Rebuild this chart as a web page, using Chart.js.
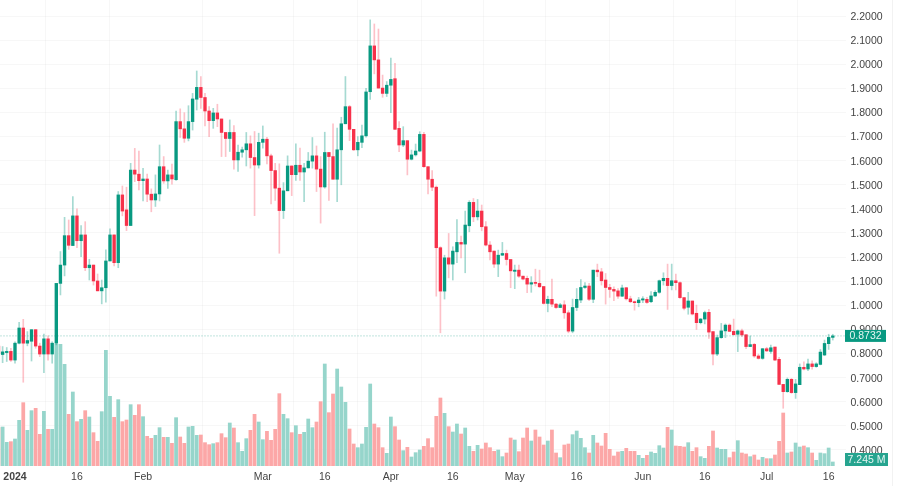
<!DOCTYPE html>
<html>
<head>
<meta charset="utf-8">
<title>Candles</title>
<script src="https://cdn.jsdelivr.net/npm/chart.js@4"></script>
<style>
  html, body { margin: 0; padding: 0; background: #fff; }
  canvas { display: block; }
</style>
</head>
<body>
<canvas id="graficoVelas" width="900" height="486"></canvas>
<script>
// daily candles, 28 Dec 2023 -> 17 Jul 2024
const opens = [
  .831, .796, .804, .809, .773, .843, .906, .843, .851, .899,
  .831, .798, .861, .798, .843, 1.091, 1.167, 1.289, 1.248, 1.371,
  1.268, 1.292, 1.156, 1.167, 1.101, 1.060, 1.073, 1.184, 1.292, 1.177,
  1.458, 1.396, 1.331, 1.561, 1.544, 1.517, 1.524, 1.461, 1.437, 1.462,
  1.575, 1.516, 1.541, 1.521, 1.762, 1.732, 1.693, 1.762, 1.855, 1.904,
  1.862, 1.806, 1.766, 1.798, 1.773, 1.717, 1.692, 1.717, 1.603, 1.635,
  1.645, 1.670, 1.613, 1.582, 1.676, 1.689, 1.620, 1.559, 1.486, 1.393,
  1.475, 1.578, 1.542, 1.581, 1.553, 1.570, 1.598, 1.620, 1.565, 1.491,
  1.634, 1.617, 1.523, 1.645, 1.753, 1.824, 1.730, 1.645, 1.676, 1.703,
  1.886, 2.076, 2.018, 1.901, 1.879, 1.913, 1.940, 1.734, 1.665, 1.683,
  1.606, 1.624, 1.640, 1.709, 1.575, 1.523, 1.490, 1.239, 1.059, 1.197,
  1.171, 1.222, 1.261, 1.254, 1.330, 1.427, 1.367, 1.391, 1.326, 1.250,
  1.225, 1.171, 1.208, 1.215, 1.190, 1.141, 1.146, 1.121, 1.112, 1.088,
  1.095, 1.091, 1.078, 1.008, 1.025, 1.005, .991, 1.002, .969, .893,
  .991, 1.022, 1.074, 1.080, 1.025, 1.146, 1.139, 1.105, 1.074, 1.066,
  1.060, 1.038, 1.073, 1.027, 1.015, 1.011, 1.022, 1.025, 1.015, 1.039,
  1.054, 1.102, 1.112, 1.082, 1.102, 1.094, 1.032, .992, 1.018, .967,
  .928, .943, .971, .891, .798, .866, .894, .918, .892, .880,
  .894, .878, .829, .838, .790, .780, .820, .809, .827, .776,
  .672, .642, .693, .638, .671, .743, .736, .757, .746, .755,
  .794, .841, .867
]
const closes = [
  .801, .807, .809, .773, .843, .906, .843, .854, .899, .831,
  .798, .861, .798, .843, 1.091, 1.167, 1.289, 1.249, 1.371, 1.268,
  1.292, 1.156, 1.167, 1.101, 1.060, 1.073, 1.184, 1.292, 1.177, 1.458,
  1.391, 1.331, 1.561, 1.544, 1.517, 1.524, 1.461, 1.437, 1.462, 1.575,
  1.516, 1.541, 1.524, 1.762, 1.732, 1.693, 1.762, 1.856, 1.904, 1.862,
  1.806, 1.766, 1.798, 1.773, 1.717, 1.692, 1.717, 1.603, 1.635, 1.645,
  1.670, 1.613, 1.582, 1.676, 1.689, 1.620, 1.559, 1.486, 1.393, 1.475,
  1.578, 1.542, 1.581, 1.553, 1.570, 1.598, 1.620, 1.565, 1.491, 1.634,
  1.617, 1.523, 1.645, 1.753, 1.824, 1.730, 1.645, 1.676, 1.703, 1.885,
  2.076, 2.018, 1.901, 1.879, 1.913, 1.937, 1.730, 1.665, 1.683, 1.606,
  1.624, 1.640, 1.709, 1.575, 1.523, 1.490, 1.239, 1.059, 1.197, 1.171,
  1.225, 1.261, 1.254, 1.333, 1.427, 1.367, 1.391, 1.326, 1.250, 1.222,
  1.171, 1.208, 1.215, 1.190, 1.143, 1.146, 1.121, 1.109, 1.088, 1.094,
  1.091, 1.077, 1.008, 1.025, 1.005, .991, 1.002, .969, .893, .991,
  1.025, 1.074, 1.080, 1.025, 1.146, 1.139, 1.102, 1.074, 1.066, 1.059,
  1.038, 1.072, 1.027, 1.015, 1.011, 1.022, 1.027, 1.012, 1.039, 1.054,
  1.102, 1.112, 1.082, 1.102, 1.094, 1.032, .988, 1.018, .964, .928,
  .943, .970, .889, .798, .866, .894, .918, .892, .878, .894,
  .877, .829, .837, .790, .780, .820, .811, .824, .773, .672,
  .642, .693, .638, .674, .743, .736, .757, .746, .757, .806,
  .842, .867, .8732
]
const highs = [
  .843, .829, .825, .822, .849, .930, .942, .891, .899, .899,
  .843, .881, .873, .849, 1.091, 1.223, 1.365, 1.354, 1.451, 1.400,
  1.331, 1.347, 1.191, 1.167, 1.130, 1.105, 1.230, 1.317, 1.292, 1.472,
  1.495, 1.490, 1.589, 1.651, 1.640, 1.568, 1.544, 1.483, 1.541, 1.665,
  1.617, 1.561, 1.586, 1.806, 1.815, 1.799, 1.828, 1.879, 1.972, 1.949,
  1.879, 1.824, 1.817, 1.834, 1.773, 1.717, 1.769, 1.746, 1.665, 1.656,
  1.717, 1.703, 1.721, 1.714, 1.744, 1.697, 1.627, 1.589, 1.587, 1.509,
  1.620, 1.578, 1.670, 1.652, 1.589, 1.634, 1.696, 1.661, 1.617, 1.718,
  1.634, 1.753, 1.735, 1.780, 1.949, 1.829, 1.730, 1.700, 1.748, 1.900,
  2.184, 2.167, 2.146, 1.955, 1.928, 2.025, 2.004, 1.762, 1.741, 1.683,
  1.644, 1.669, 1.720, 1.718, 1.575, 1.559, 1.495, 1.243, 1.208, 1.298,
  1.243, 1.356, 1.287, 1.391, 1.434, 1.443, 1.439, 1.416, 1.347, 1.264,
  1.225, 1.229, 1.261, 1.229, 1.190, 1.167, 1.167, 1.121, 1.121, 1.119,
  1.150, 1.146, 1.078, 1.038, 1.109, 1.008, 1.008, 1.019, .978, 1.026,
  1.070, 1.107, 1.094, 1.091, 1.146, 1.171, 1.153, 1.132, 1.087, 1.077,
  1.069, 1.084, 1.074, 1.038, 1.018, 1.033, 1.036, 1.033, 1.057, 1.061,
  1.105, 1.135, 1.171, 1.171, 1.130, 1.097, 1.032, 1.054, 1.018, 1.001,
  .946, .976, .983, .891, .877, .925, .923, .923, .943, .898,
  .902, .878, .873, .842, .798, .821, .826, .835, .827, .784,
  .672, .699, .697, .693, .757, .766, .777, .770, .762, .817,
  .856, .880, .880
]
const lows = [
  .767, .762, .767, .767, .760, .840, .681, .832, .769, .822,
  .787, .721, .773, .760, .836, 1.043, 1.122, 1.232, 1.248, 1.239,
  1.202, 1.144, 1.105, 1.084, 1.060, 1.006, 1.013, 1.184, 1.163, 1.156,
  1.371, 1.310, 1.331, 1.513, 1.479, 1.433, 1.430, 1.388, 1.410, 1.433,
  1.506, 1.485, 1.503, 1.518, 1.696, 1.676, 1.682, 1.727, 1.810, 1.817,
  1.744, 1.700, 1.734, 1.741, 1.617, 1.617, 1.638, 1.565, 1.555, 1.614,
  1.578, 1.569, 1.372, 1.569, 1.652, 1.587, 1.421, 1.435, 1.216, 1.360,
  1.475, 1.455, 1.518, 1.518, 1.430, 1.570, 1.569, 1.472, 1.341, 1.486,
  1.435, 1.523, 1.430, 1.500, 1.753, 1.683, 1.642, 1.620, 1.654, 1.697,
  1.854, 1.960, 1.901, 1.863, 1.866, 1.799, 1.730, 1.637, 1.658, 1.541,
  1.603, 1.619, 1.637, 1.572, 1.462, 1.476, 1.038, .886, 1.026, 1.114,
  1.105, 1.177, 1.197, 1.135, 1.305, 1.347, 1.354, 1.309, 1.246, 1.188,
  1.157, 1.119, 1.206, 1.167, 1.073, 1.069, 1.116, 1.105, 1.052, 1.054,
  1.080, 1.074, 1.005, .973, .994, .987, .991, .946, .886, .886,
  .978, 1.011, 1.070, 1.019, 1.011, 1.119, 1.084, 1.005, 1.033, 1.019,
  1.029, 1.036, 1.022, 1.011, .980, .994, 1.011, 1.008, 1.011, 1.036,
  1.050, 1.084, .983, 1.064, 1.064, 1.029, .981, .963, .960, .900,
  .923, .923, .863, .753, .791, .863, .866, .892, .877, .808,
  .870, .820, .829, .784, .777, .776, .808, .801, .770, .672,
  .573, .639, .635, .614, .671, .732, .729, .735, .743, .753,
  .791, .817, .856
]
// volume in millions
const volumes = [
  69, 70.2, 42.6, 43.8, 48.6, 82.2, 114, 64.2, 99.6, 103.8,
  57, 98.4, 66, 66, 219, 219, 183, 93, 133.2, 79.8,
  84, 99.6, 88.2, 60, 44.4, 97.8, 208.2, 125.4, 87.6, 119.4,
  79.8, 82.8, 110.4, 91.2, 110.4, 88.8, 53.4, 49.8, 55.2, 69,
  51.6, 51.6, 40.8, 87, 52.2, 40.8, 70.2, 71.4, 55.2, 55.8,
  42, 38.4, 40.2, 42, 58.2, 51, 77.4, 68.4, 42, 26.4,
  49.2, 64.2, 93, 79.2, 47.4, 62.4, 46.2, 66, 130.2, 93,
  85.2, 60, 72.6, 57, 60.6, 84.6, 69, 79.2, 115.8, 183.6,
  96, 129.6, 174.6, 142.2, 114.6, 66.6, 39.6, 33, 39.6, 69.6,
  147.6, 75.6, 69, 33, 22.8, 88.2, 70.8, 46.8, 27.6, 33.6,
  16.2, 24, 28.8, 35.4, 49.2, 33, 89.4, 122.4, 94.8, 70.8,
  61.2, 75.6, 57.6, 68.4, 35.4, 26.4, 37.2, 30.6, 41.4, 33,
  26.4, 28.8, 16.8, 23.4, 50.4, 46.8, 25.8, 50.4, 68.4, 45,
  64.8, 52.2, 37.8, 45, 64.8, 23.4, 15, 37.8, 39.6, 56.4,
  63, 49.8, 33, 23.4, 55.2, 41.4, 36, 58.8, 30, 18,
  25.2, 26.4, 31.8, 26.4, 26.4, 19.2, 13.8, 19.2, 25.2, 22.8,
  36.6, 32.4, 69.6, 64.8, 36, 35.4, 34.2, 42, 26.4, 33,
  16.8, 13.8, 35.4, 63, 32.4, 30, 30, 15, 25.2, 45.6,
  23.4, 21.6, 16.8, 19.8, 10.8, 15.6, 13.2, 13.2, 19.8, 44.4,
  95.4, 23.4, 25.2, 41.4, 34.2, 36, 33, 23.4, 10.2, 23.4,
  22.2, 32.4, 7.245
]

const tickIndex = [4, 19, 35, 64, 79, 95, 110, 125, 140, 156, 171, 186, 201]
const tickLabels = ['2024', '16', 'Feb', 'Mar', '16', 'Apr', '16', 'May', '16', 'Jun', '16', 'Jul', '16']
const priceTicks = [2.2, 2.1, 2.0, 1.9, 1.8, 1.7, 1.6, 1.5, 1.4, 1.3, 1.2, 1.1, 1.0, 0.9, 0.8, 0.7, 0.6, 0.5, 0.4]
const lastPrice = 0.8732
const lastVolumeLabel = '7.245 M'

const VERDE = '#089981'
const VERMELHO = '#F7314A'
const FONTE = '"Liberation Sans", Arial, sans-serif'

const sobe = opens.map((o, i) => closes[i] >= o)
const grade = 'rgba(0, 0, 0, 0.03)'

// price label, volume label and last price line sit on top of the axis
const etiquetas = {
    id: 'etiquetas',
    afterDraw(chart) {
        const { ctx, chartArea, scales } = chart
        const y = scales.y.getPixelForValue(lastPrice)

        ctx.save()
        ctx.setLineDash([2, 1])
        ctx.strokeStyle = 'rgba(8, 153, 129, 0.25)'
        ctx.lineWidth = 1
        ctx.beginPath()
        ctx.moveTo(chartArea.left, y)
        ctx.lineTo(chartArea.right, y)
        ctx.stroke()
        ctx.setLineDash([])

        ctx.strokeStyle = 'rgba(0, 0, 0, 0.05)'
        ctx.beginPath()
        ctx.moveTo(892.5, 0)
        ctx.lineTo(892.5, 486)
        ctx.stroke()

        ctx.font = '10.5px ' + FONTE
        ctx.textBaseline = 'middle'
        ctx.textAlign = 'center'

        ctx.fillStyle = VERDE
        ctx.fillRect(chartArea.right - 1, y - 6, 41, 12)
        ctx.fillStyle = '#e6f6f3'
        ctx.fillText(lastPrice.toFixed(4), chartArea.right + 19.5, y + 0.5)

        ctx.fillStyle = '#26a48f'
        ctx.fillRect(chartArea.right - 1, chartArea.bottom - 13, 43, 13)
        ctx.fillStyle = '#e6f6f3'
        ctx.fillText(lastVolumeLabel, chartArea.right + 20.5, chartArea.bottom - 6)
        ctx.restore()
    }
}

new Chart(document.getElementById('graficoVelas'), {
    type: 'bar',
    data: {
        datasets: [
            {
                label: 'Corpo',
                order: 1,
                yAxisID: 'y',
                data: opens.map((o, i) => ({ x: i, y: [o, closes[i]] })),
                backgroundColor: sobe.map(s => s ? VERDE : VERMELHO),
                barThickness: 2.7,
                minBarLength: 1
            },
            {
                label: 'Pavio',
                order: 2,
                yAxisID: 'y',
                data: lows.map((l, i) => ({ x: i, y: [l, highs[i]] })),
                backgroundColor: sobe.map(s => s ? 'rgba(8, 153, 129, 0.36)' : 'rgba(247, 49, 74, 0.3)'),
                barThickness: 1
            },
            {
                label: 'Volume',
                order: 3,
                yAxisID: 'yVolume',
                data: volumes.map((v, i) => ({ x: i, y: v })),
                backgroundColor: sobe.map(s => s ? '#96d5cb' : '#fca7a7'),
                barThickness: 3.1
            }
        ]
    },
    options: {
        responsive: false,
        animation: false,
        layout: { padding: 0 },
        plugins: {
            legend: { display: false },
            tooltip: { enabled: false }
        },
        datasets: { bar: { grouped: false } },
        scales: {
            x: {
                type: 'linear',
                offset: false,
                min: 0.368,
                max: 205.2,
                afterBuildTicks(scale) {
                    scale.ticks = tickIndex.map(v => ({ value: v }))
                },
                afterFit(scale) {
                    scale.height = 20
                    // the first label may not push the plot to the right
                    scale.paddingLeft = 0
                    scale.paddingRight = 0
                },
                grid: { color: grade, drawTicks: false },
                border: { display: false },
                ticks: {
                    autoSkip: false,
                    maxRotation: 0,
                    padding: 5,
                    color: '#444',
                    font: ctx => ({
                        family: FONTE,
                        size: 10.5,
                        weight: ctx.tick && ctx.tick.value === tickIndex[0] ? 'bold' : 'normal'
                    }),
                    callback: value => tickLabels[tickIndex.indexOf(value)]
                }
            },
            y: {
                position: 'right',
                min: 0.3336,
                max: 2.2664,
                afterBuildTicks(scale) {
                    scale.ticks = priceTicks.map(v => ({ value: v }))
                },
                afterFit(scale) {
                    scale.width = 54
                    scale.paddingTop = 0
                    scale.paddingBottom = 0
                },
                grid: { color: grade, drawTicks: false },
                border: { display: false },
                ticks: {
                    padding: 4.5,
                    labelOffset: 1,
                    color: '#444',
                    font: { family: FONTE, size: 10.5 },
                    callback: value => value.toFixed(4)
                }
            },
            yVolume: {
                display: false,
                min: 0,
                max: 838.8
            }
        }
    },
    plugins: [etiquetas]
})
</script>
</body>
</html>
